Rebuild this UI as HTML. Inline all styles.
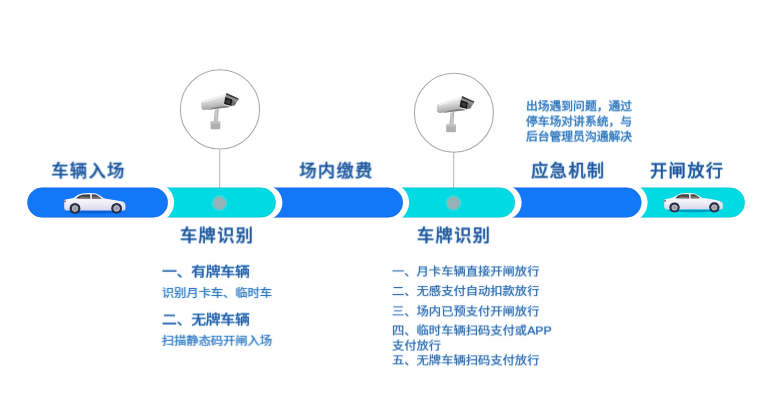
<!DOCTYPE html>
<html lang="zh-CN">
<head>
<meta charset="utf-8">
<title>停车场流程</title>
<style>
html,body{margin:0;padding:0;background:#fff;}
body{width:765px;height:418px;position:relative;overflow:hidden;font-family:"Liberation Sans","Noto Sans CJK SC",sans-serif;}
.t{position:absolute;white-space:nowrap;line-height:1;margin:0;filter:blur(0.35px);text-shadow:0 0 1.6px rgba(90,175,240,0.45),0 0 2.5px rgba(90,175,240,0.22);transform-origin:0 50%;transform:translate(var(--dx,0px),var(--dy,0px)) rotate(0.003deg) scale(var(--sx,1),var(--sy,1));}
.lab{font-size:17.3px;letter-spacing:1.3px;font-weight:500;color:#22569a;-webkit-text-stroke:0.25px #22569a;}
.h{font-size:14.9px;letter-spacing:-0.3px;font-weight:500;color:#2560a8;-webkit-text-stroke:0.2px #2560a8;--sx:1;--sy:0.875;}
.s{font-size:12.25px;font-weight:400;color:#3076bc;-webkit-text-stroke:0.16px #3076bc;--sx:1;--sy:0.97;}
.r{font-size:12.25px;font-weight:400;color:#2b64aa;-webkit-text-stroke:0.12px #2b64aa;--sx:1.003;--sy:0.94;}
.n{font-size:11.7px;font-weight:400;color:#2f76bc;-webkit-text-stroke:0.28px #2f76bc;--sx:1.008;--sy:0.97;}
svg{position:absolute;overflow:visible;}
</style>
</head>
<body>
<svg id="bar" style="left:0;top:0;z-index:0" width="765" height="418" viewBox="0 0 765 418">
  <path d="M630.55 187.85 H729.95 A14.7 14.7 0 0 1 729.95 217.25 H630.55" fill="#00dae3" stroke="#0fbfca" stroke-width="0.9" stroke-opacity="0.6"/>
  <circle cx="628" cy="202.55" r="19.6" fill="#fff"/>
  <path d="M504.15 187.85 H626.55 A14.7 14.7 0 0 1 626.55 217.25 H504.15" fill="#1278f8" stroke="#1462d6" stroke-width="0.9" stroke-opacity="0.6"/>
  <circle cx="504.25" cy="202.55" r="17.35" fill="#fff"/>
  <path d="M392.05 187.85 H500.15 A14.7 14.7 0 0 1 500.15 217.25 H392.05" fill="#00dae3" stroke="#0fbfca" stroke-width="0.9" stroke-opacity="0.6"/>
  <circle cx="389.5" cy="202.55" r="19.6" fill="#fff"/>
  <path d="M264.95 187.85 H388.05 A14.7 14.7 0 0 1 388.05 217.25 H264.95" fill="#1278f8" stroke="#1462d6" stroke-width="0.9" stroke-opacity="0.6"/>
  <circle cx="265.05" cy="202.55" r="17.35" fill="#fff"/>
  <path d="M157.05 187.85 H260.95 A14.7 14.7 0 0 1 260.95 217.25 H157.05" fill="#00dae3" stroke="#0fbfca" stroke-width="0.9" stroke-opacity="0.6"/>
  <circle cx="154.5" cy="202.55" r="19.6" fill="#fff"/>
  <rect x="27.45" y="187.85" width="140.3" height="29.4" rx="14.7" fill="#1278f8" stroke="#1462d6" stroke-width="0.9" stroke-opacity="0.6"/>
</svg>

<svg style="left:0;top:0;z-index:1" width="765" height="418" viewBox="0 0 765 418">
  <defs><filter id="bl3" x="-30%" y="-30%" width="160%" height="160%"><feGaussianBlur stdDeviation="0.6"/></filter></defs>
  <line x1="219.7" y1="150" x2="219.7" y2="188.6" stroke="#ababab" stroke-width="0.9"/>
  <line x1="453.7" y1="152.5" x2="453.7" y2="188.6" stroke="#ababab" stroke-width="0.9"/>
  <circle cx="219.9" cy="109.3" r="39.6" fill="#fff" stroke="#a9a9a9" stroke-width="1.05"/>
  <circle cx="453.9" cy="112.8" r="39.5" fill="#fff" stroke="#a9a9a9" stroke-width="1.05"/>
  <g filter="url(#bl3)">
    <circle cx="219.5" cy="203.1" r="8" fill="#6fd3da" opacity="0.5"/>
    <circle cx="453.5" cy="203.1" r="8" fill="#6fd3da" opacity="0.5"/>
    <circle cx="219.5" cy="203.1" r="6.3" fill="#97b2b6"/>
    <circle cx="453.5" cy="203.1" r="6.3" fill="#97b2b6"/>
  </g>
</svg>


<svg width="0" height="0" style="left:0;top:0">
  <defs>
    <linearGradient id="cb" x1="0" y1="0" x2="0" y2="1">
      <stop offset="0" stop-color="#ffffff"/>
      <stop offset="0.55" stop-color="#f1f0f8"/>
      <stop offset="1" stop-color="#d9d8ea"/>
    </linearGradient>
    <radialGradient id="wh">
      <stop offset="0" stop-color="#8d8d96"/>
      <stop offset="0.62" stop-color="#b9b9c2"/>
      <stop offset="0.76" stop-color="#3b3f4e"/>
      <stop offset="1" stop-color="#20283c"/>
    </radialGradient>
    <filter id="bl" x="-10%" y="-20%" width="120%" height="140%"><feGaussianBlur stdDeviation="0.35"/></filter>
    <symbol id="car" viewBox="0 0 62 21" preserveAspectRatio="none" overflow="visible">
      <g filter="url(#bl)">
        <ellipse cx="31" cy="18.9" rx="28" ry="1.5" fill="#0b3f9a" opacity="0.4"/>
        <path d="M0.2 8.2 Q0.2 6.9 1.5 6.6 L9.6 4.9 Q13.5 1.3 18 0.4 Q25 -0.3 32 0.4 Q36 2.2 40 5.4 Q51 6.6 58 8.6 Q61.4 9.6 61.4 11.8 L61.5 16 Q61.4 17.2 60 17.4 L2.5 17.5 Q0.4 17 0.2 15 Z" fill="url(#cb)"/>
        <path d="M11.8 5.6 Q14.5 2.2 18.5 1.4 L26.1 1.2 L26.4 5.8 Z" fill="#45434a"/>
        <path d="M27.7 1.2 L31.8 1.4 Q35.2 3 37.8 5.7 L28 5.8 Z" fill="#4b484c"/>
        <path d="M14.5 5.5 L25.6 5.6 L25.4 3.9 L17.4 3.8 Z" fill="#8f8278" opacity="0.75"/>
        <path d="M28.5 5.6 L36.4 5.6 L34.2 3.8 L28.4 3.7 Z" fill="#8f8278" opacity="0.75"/>
        <path d="M38.6 5.4 l2.4 0.1 l0 1.6 l-2.2 0 Z" fill="#ecebf2"/>
        <rect x="0.2" y="7.6" width="1.7" height="1.6" fill="#6a3c58" opacity="0.85"/>
        <path d="M58.6 9.4 L61 10.4 L61.2 11.6 L58.8 10.8 Z" fill="#c9c9dc"/>
        <circle cx="11" cy="15.4" r="5.4" fill="#1d2b4c"/>
        <circle cx="52.6" cy="15.3" r="5.4" fill="#1d2b4c"/>
        <circle cx="11" cy="15.5" r="4.6" fill="url(#wh)"/>
        <circle cx="52.6" cy="15.4" r="4.6" fill="url(#wh)"/>
      </g>
    </symbol>
  </defs>
</svg>
<svg style="left:64.1px;top:192.5px;z-index:2" width="62" height="21"><use href="#car" width="62" height="21"/></svg>
<svg style="left:664.1px;top:193px;z-index:2" width="59.3" height="19.7"><use href="#car" width="59.3" height="19.7"/></svg>


<svg width="0" height="0" style="left:0;top:0">
  <defs>
    <linearGradient id="cg1" x1="0" y1="0" x2="0.25" y2="1">
      <stop offset="0" stop-color="#f4f4f4"/>
      <stop offset="0.5" stop-color="#dadada"/>
      <stop offset="1" stop-color="#a2a2a2"/>
    </linearGradient>
    <linearGradient id="cg2" x1="0" y1="0" x2="1" y2="0">
      <stop offset="0" stop-color="#a8a8a8"/>
      <stop offset="0.5" stop-color="#d0d0d0"/>
      <stop offset="1" stop-color="#a0a0a0"/>
    </linearGradient>
    <filter id="bl2" x="-10%" y="-10%" width="120%" height="120%"><feGaussianBlur stdDeviation="0.4"/></filter>
    <g id="cam" filter="url(#bl2)">
      <!-- mount -->
      <path d="M214.9 109.4 L218.6 109 L217.8 122 L213.8 122 Z" fill="url(#cg2)"/>
      <rect x="210.6" y="121.6" width="9.7" height="7.6" rx="0.6" fill="#b0b0b0"/>
      <rect x="210.6" y="121.6" width="9.7" height="1.8" fill="#c6c6c6"/>
      <!-- body -->
      <path d="M201.2 103.4 Q201 101.5 202.8 100.9 L227 93.6 L232 99 L231.4 106.8 L204.6 110.1 Q201.6 109.9 201.3 107.4 Z" fill="url(#cg1)"/>
      <path d="M207 110 L229.5 107.2 L228.4 105.4 L214 107.6 Z" fill="#6e6e6e" opacity="0.75"/>
      <path d="M203 101.6 L226 94.6 L226.6 95.6 L203.4 102.8 Z" fill="#ffffff" opacity="0.7"/>
      <!-- hood -->
      <path d="M226 94.6 L238.2 100 L236 103.2 L232.4 99.5 L225.2 97.2 Z" fill="#8c8c8c"/>
      <path d="M226.6 93.1 L238.7 98.5 L238.3 100.1 L226 94.7 Z" fill="#3a3a3a"/>
      <path d="M232.4 99.5 L236.2 103 L234.6 105.6 L231.2 106 Z" fill="#6c6c6c"/>
      <!-- lens -->
      <path d="M225.2 97.1 L232.5 99.4 L231.3 106 L224 104.2 Z" fill="#1b1b1b"/>
      <path d="M226.6 99.6 L230.4 100.8 L229.8 104 L226 102.9 Z" fill="#3e3e3e"/>
      <path d="M224 104.2 L231.3 106 L231.1 106.9 L223.8 105.1 Z" fill="#ededed"/>
    </g>
  </defs>
</svg>
<svg style="left:0;top:0;z-index:3" width="765" height="418" viewBox="0 0 765 418">
  <use href="#cam"/>
  <use href="#cam" transform="translate(235.6 3)"/>
</svg>

<div class="t lab" style="left:51px;top:162px;--dx:0.3px;--dy:0.7px">车辆入场</div>
<div class="t lab" style="left:299px;top:162px;--dx:0.3px;--dy:0.7px">场内缴费</div>
<div class="t lab" style="left:531px;top:162px;--dx:0.1px;--dy:0.7px">应急机制</div>
<div class="t lab" style="left:650px;top:162px;--dx:0px;--dy:0.7px">开闸放行</div>
<div class="t lab" style="left:179px;top:227px;--dx:0.9px;--dy:0.4px">车牌识别</div>
<div class="t lab" style="left:416px;top:227px;--dx:0.9px;--dy:0.4px">车牌识别</div>
<div class="t n" style="left:526px;top:100px;--dx:0px;--dy:0.1px">出场遇到问题，通过</div>
<div class="t n" style="left:526px;top:115px;--dx:0px;--dy:0.4px">停车场对讲系统，与</div>
<div class="t n" style="left:526px;top:130px;--dx:0px;--dy:0.5px">后台管理员沟通解决</div>
<div class="t h" style="left:162px;top:263px;--dx:0px;--dy:0.8px">一、有牌车辆</div>
<div class="t s" style="left:161px;top:286px;--dx:0.8px;--dy:0.8px">识别月卡车、临时车</div>
<div class="t h" style="left:162px;top:311px;--dx:0px;--dy:0.7px">二、无牌车辆</div>
<div class="t s" style="left:161px;top:334px;--dx:0.8px;--dy:0.6px">扫描静态码开闸入场</div>
<div class="t r" style="left:392px;top:266px;--dx:0px;--dy:0.05px">一、月卡车辆直接开闸放行</div>
<div class="t r" style="left:392px;top:285px;--dx:0px;--dy:0.7px">二、无感支付自动扣款放行</div>
<div class="t r" style="left:392px;top:306px;--dx:0px;--dy:0px">三、场内已预支付开闸放行</div>
<div class="t r" style="left:392px;top:325px;--dx:0px;--dy:0.15px">四、临时车辆扫码支付或APP</div>
<div class="t r" style="left:392px;top:340px;--dx:0px;--dy:0.25px">支付放行</div>
<div class="t r" style="left:392px;top:354px;--dx:0px;--dy:0.95px">五、无牌车辆扫码支付放行</div>
</body>
</html>
